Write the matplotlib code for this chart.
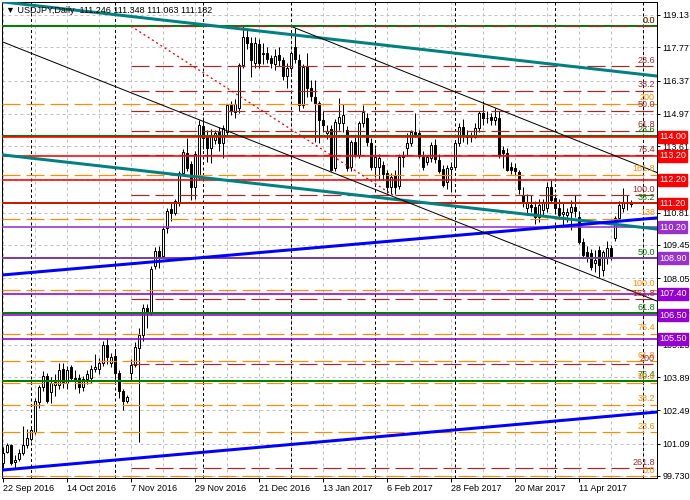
#!/usr/bin/env python3
"""
USDJPY daily chart with fib levels, channels and horizontal levels (MT4 look).
Output: out.png (690x500)
"""

import numpy as np
import matplotlib
matplotlib.use('Agg')
import matplotlib.pyplot as plt
from matplotlib.transforms import blended_transform_factory

plt.rcParams['font.family'] = ['Liberation Sans', 'DejaVu Sans']
plt.rcParams['lines.scale_dashes'] = False

PX = 0.72  # points per pixel at dpi=100

# ── Candles (bar index 0 = 22 Sep 2016) ─────────────────────────────
opens = [100.29, 100.75, 101.03, 100.30, 100.45, 100.70, 101.03, 101.30, 101.60, 102.85,
         103.47, 103.93, 103.25, 103.55, 103.55, 104.22, 103.65, 104.30, 103.85, 103.85,
         103.47, 103.80, 103.85, 104.25, 104.22, 104.47, 105.24, 104.50, 104.77, 104.06,
         103.30, 102.90, 104.05, 104.40, 105.12, 105.67, 106.80, 106.60, 108.55, 109.20,
         109.00, 110.15, 110.95, 110.81, 111.20, 112.50, 113.31, 112.86, 111.90, 112.35,
         114.46, 114.00, 113.52, 113.87, 114.22, 113.76, 114.22, 115.34, 115.05, 115.20,
         117.03, 118.22, 117.96, 117.10, 117.90, 117.50, 117.54, 117.30, 117.07, 117.45,
         117.24, 116.56, 116.90, 117.77, 117.24, 115.34, 116.95, 116.06, 115.69, 115.41,
         114.71, 114.15, 114.32, 112.68, 114.60, 114.57, 114.29, 112.75, 113.80, 113.24,
         114.57, 114.78, 113.76, 112.75, 112.75, 112.82, 112.47, 111.90, 112.40, 111.93,
         113.25, 113.55, 113.73, 114.22, 114.15, 113.17, 112.95, 113.10, 113.66, 113.03,
         112.64, 112.12, 112.65, 112.75, 113.73, 114.43, 114.05, 114.00, 114.00, 114.36,
         114.99, 114.78, 114.85, 114.70, 114.80, 113.45, 113.31, 112.75, 112.70, 112.53,
         111.55, 110.99, 111.15, 111.06, 110.64, 110.92, 110.99, 111.90, 111.41, 110.99,
         110.75, 110.71, 110.85, 111.06, 110.64, 109.59, 109.17, 109.10, 108.68, 109.24,
         108.40, 108.89, 109.31, 109.73, 110.57, 110.99, 111.20, 111.246]
highs = [100.96, 101.13, 101.07, 100.62, 100.85, 101.83, 101.70, 101.80, 103.00, 103.55,
         104.15, 104.05, 103.90, 104.00, 104.50, 104.50, 104.35, 104.40, 104.20, 104.00,
         103.95, 104.20, 104.40, 104.87, 104.70, 105.40, 105.55, 104.90, 105.00, 104.20,
         103.40, 103.15, 104.65, 105.38, 105.95, 106.95, 106.95, 108.55, 109.38, 109.40,
         110.25, 111.00, 111.20, 111.40, 112.55, 113.50, 113.95, 113.00, 113.40, 114.70,
         114.83, 114.30, 114.35, 114.30, 114.40, 114.50, 115.40, 115.50, 115.60, 117.10,
         118.66, 118.60, 118.20, 118.20, 118.10, 117.95, 117.80, 117.45, 117.70, 117.80,
         117.35, 117.10, 117.60, 118.60, 117.50, 117.05, 117.53, 116.40, 116.40, 115.50,
         115.10, 114.50, 114.50, 114.75, 115.62, 115.37, 114.45, 113.85, 114.00, 114.65,
         115.35, 115.00, 113.95, 113.52, 113.30, 113.00, 112.60, 112.50, 112.60, 113.30,
         113.40, 114.16, 114.30, 114.99, 114.30, 113.40, 113.25, 113.80, 113.90, 113.30,
         112.80, 112.80, 112.95, 113.85, 114.60, 114.75, 114.30, 114.20, 114.60, 115.10,
         115.50, 115.10, 115.00, 115.20, 115.10, 113.60, 113.55, 112.95, 112.90, 112.60,
         111.90, 111.60, 111.55, 111.30, 111.40, 111.40, 112.10, 112.19, 111.60, 111.40,
         111.20, 111.00, 111.35, 111.55, 110.90, 109.75, 109.40, 109.30, 109.24, 109.40,
         109.25, 109.60, 109.45, 110.65, 111.30, 111.84, 111.55, 111.348]
lows = [100.05, 100.68, 100.19, 100.05, 100.35, 100.60, 100.90, 101.20, 101.50, 102.60,
        103.30, 102.80, 102.80, 103.10, 103.40, 103.45, 103.40, 103.75, 103.40, 103.20,
        103.30, 103.60, 103.65, 104.10, 104.00, 104.35, 104.45, 104.30, 103.80, 103.00,
        102.50, 102.80, 103.73, 104.33, 101.17, 105.40, 105.95, 106.50, 108.45, 108.50,
        108.90, 109.95, 110.45, 110.70, 111.10, 112.40, 112.55, 111.35, 111.40, 112.20,
        113.50, 112.95, 112.88, 113.70, 113.40, 113.10, 114.10, 114.90, 114.80, 115.00,
        116.90, 117.70, 116.53, 116.90, 116.90, 117.05, 117.10, 116.90, 116.80, 117.00,
        116.40, 116.05, 116.70, 117.10, 115.10, 115.20, 115.68, 115.50, 113.80, 113.75,
        114.20, 113.90, 112.55, 112.55, 114.29, 114.20, 112.55, 112.55, 113.15, 113.10,
        114.40, 113.60, 112.60, 112.33, 112.20, 112.20, 111.64, 111.60, 111.60, 111.80,
        112.75, 113.20, 113.60, 114.00, 113.10, 112.60, 112.80, 112.95, 112.90, 112.50,
        111.90, 111.80, 111.70, 112.60, 113.60, 113.80, 113.70, 113.80, 113.95, 114.20,
        114.50, 114.60, 114.50, 114.50, 113.10, 112.70, 112.55, 112.45, 112.40, 111.60,
        111.05, 110.70, 110.85, 110.35, 110.40, 110.70, 110.85, 111.20, 110.80, 110.55,
        110.30, 110.40, 110.10, 110.64, 109.50, 108.90, 108.75, 108.40, 108.33, 108.12,
        108.15, 108.65, 108.80, 109.60, 110.45, 110.85, 110.92, 111.063]
closes = [100.71, 101.03, 100.29, 100.40, 100.70, 101.03, 101.33, 101.66, 102.90, 103.47,
          103.93, 102.90, 103.65, 103.70, 104.18, 103.68, 104.20, 103.85, 103.82, 103.47,
          103.80, 104.00, 104.25, 104.30, 104.47, 105.24, 104.73, 104.75, 104.06, 103.30,
          102.90, 103.05, 104.40, 105.17, 105.67, 106.80, 106.60, 108.43, 109.20, 108.95,
          110.12, 110.89, 110.80, 111.30, 112.47, 113.35, 112.68, 111.90, 113.30, 114.50,
          113.94, 113.52, 114.10, 114.16, 113.73, 114.36, 115.34, 115.10, 115.37, 117.03,
          118.22, 117.96, 117.24, 117.94, 117.10, 117.55, 117.26, 117.10, 117.40, 117.24,
          116.56, 116.90, 117.52, 117.27, 115.34, 116.95, 116.04, 115.72, 115.41, 114.71,
          114.50, 114.25, 112.61, 114.64, 114.85, 114.92, 112.68, 113.80, 113.24, 114.57,
          115.06, 113.80, 112.75, 113.17, 113.10, 112.44, 111.90, 112.33, 111.90, 113.17,
          113.15, 113.76, 114.22, 114.10, 113.19, 112.75, 113.15, 113.66, 113.08, 112.58,
          111.98, 112.68, 112.75, 113.73, 114.43, 114.05, 114.00, 114.05, 114.36, 115.00,
          114.78, 114.80, 114.70, 114.85, 113.24, 113.31, 112.61, 112.61, 112.55, 111.79,
          111.20, 111.20, 111.05, 110.64, 111.13, 111.20, 111.90, 111.34, 110.99, 110.71,
          110.85, 110.85, 111.06, 110.90, 109.59, 109.03, 109.00, 108.54, 108.82, 108.61,
          109.14, 109.31, 108.96, 110.57, 111.13, 111.20, 111.25, 111.182]

# ── Axis ticks ──────────────────────────────────────────────────────
price_ticks = [119.13, 117.77, 116.37, 114.97, 113.61, 112.21, 110.81, 109.45,
               108.05, 106.65, 105.25, 103.89, 102.49, 101.09, 99.73]
price_tick_labels = ['119.13', '117.77', '116.37', '114.97', '113.61', '112.21', '110.81',
                     '109.45', '108.05', '106.65', '105.25', '103.89', '102.49', '101.09',
                     '99.730']
date_bars = [0, 16, 32, 48, 64, 80, 96, 112, 128, 144]
date_labels = ['22 Sep 2016', '14 Oct 2016', '7 Nov 2016', '29 Nov 2016', '21 Dec 2016',
               '13 Jan 2017', '6 Feb 2017', '28 Feb 2017', '20 Mar 2017', '11 Apr 2017']
month_bars = [7, 28, 50, 72, 93, 113, 138, 160]

# ── Horizontal levels ───────────────────────────────────────────────
red_levels = [114.00, 113.20, 112.20, 111.20]
purple_levels = [110.20, 108.90, 107.40, 106.50, 105.50]
purple_colors = ['#9932CC', '#9932CC', '#9400D3', '#9400D3', '#9400D3']

# ── Fibonacci objects ───────────────────────────────────────────────
fib1_high, fib1_low, fib1_start, fib1_end_bar = 118.66, 111.55, 32, 97.5
fib1_levels = [0.0, 23.6, 38.2, 50.0, 61.8, 76.4, 100.0, 161.8, 200.0, 261.8]
fib1_labels = ['0.0', '23.6', '38.2', '50.0', '61.8', '76.4', '100.0', '161.8', '200', '261.8']

fib2_low, fib2_high = 99.73, 107.56
fib2_levels = [0.0, 23.6, 38.2, 50.0, 61.8, 76.4, 100.0, 138.2, 161.8, 200.0]
fib2_labels = ['0.0', '23.6', '38.2', '50.0', '61.8', '76.4', '100.0', '138', '161.8', '200']

fib3_high, fib3_low = 118.66, 99.13
fib3_levels = [0.0, 23.6, 38.2, 50.0, 61.8, 76.4]
fib3_labels = ['0.0', '23.6', '38.2', '50.0', '61.8', '76.4']

# ── Trend lines: (bar, price) -> (bar, price) ───────────────────────
teal_lines = [((0, 119.68), (163.5, 116.56)), ((0, 113.24), (163.5, 110.12))]
blue_lines = [((0, 108.19), (163.5, 110.59)), ((0, 99.98), (163.5, 102.42))]
black_lines = [((0, 117.99), (163.5, 107.09)), ((72.5, 118.62), (163.5, 112.50))]

XMIN, XMAX = -0.25, 163.5
YMIN, YMAX = 99.643, 119.677

BROWN = '#A52A2A'
ORANGE = '#FF8C00'
GREEN = '#008000'
FS = 6.5


def main():
    fig = plt.figure(figsize=(6.9, 5.0), dpi=100)
    ax = fig.add_axes([2 / 690, 22 / 500, 655 / 690, 476 / 500])
    ax.set_xlim(XMIN, XMAX)
    ax.set_ylim(YMIN, YMAX)
    rt = blended_transform_factory(ax.transAxes, ax.transData)

    # grid + period separators
    for b in np.arange(0, 164, 8):
        ax.axvline(b, color='#C0C0C0', lw=1 * PX, ls=(0, (3 * PX, 3 * PX)), zorder=0.5)
    for p in price_ticks:
        ax.axhline(p, color='#C0C0C0', lw=1 * PX, ls=(0, (3 * PX, 3 * PX)), zorder=0.5)
    for b in month_bars:
        ax.axvline(b, color='black', lw=1 * PX, ls=(0, (3 * PX, 2.5 * PX)), zorder=1)

    # candles
    o, h, l, c = map(np.array, (opens, highs, lows, closes))
    idx = np.arange(len(o))
    ax.vlines(idx, l, h, color='black', lw=1 * PX, zorder=3)
    body = np.maximum(np.abs(c - o), 0.02)
    fills = np.where(c >= o, 'white', 'black')
    ax.bar(idx, body, bottom=np.minimum(o, c), width=0.55, color=fills,
           edgecolor='black', linewidth=1 * PX, zorder=4)

    dash = (0, (18 * PX, 6 * PX))

    # fib 3 (green solid, full width)
    rng3 = fib3_high - fib3_low
    for lv, lab in zip(fib3_levels, fib3_labels):
        p = fib3_high - lv / 100 * rng3
        ax.axhline(p, color=GREEN, lw=2 * PX, zorder=5)
        ax.text(0.9969, p + 0.06, lab, transform=rt, ha='right', va='bottom',
                color=GREEN, fontsize=FS, zorder=9)

    # fib 2 (orange, full width)
    rng2 = fib2_high - fib2_low
    for lv, lab in zip(fib2_levels, fib2_labels):
        p = fib2_low + lv / 100 * rng2
        ax.hlines(p, XMIN, XMAX, colors=ORANGE, lw=1.2 * PX, linestyles=[dash], zorder=5.5)
        ax.text(0.9969, p + 0.06, lab, transform=rt, ha='right', va='bottom',
                color=ORANGE, fontsize=FS, zorder=9)

    # fib 1 (brown, from anchor to right)
    rng1 = fib1_high - fib1_low
    for lv, lab in zip(fib1_levels, fib1_labels):
        p = fib1_high - lv / 100 * rng1
        ax.hlines(p, fib1_start, XMAX, colors=BROWN, lw=1.2 * PX, linestyles=[dash], zorder=5.6)
        ax.text(0.9969, p + 0.06, lab, transform=rt, ha='right', va='bottom',
                color=BROWN, fontsize=FS, zorder=9)
    ax.plot([fib1_start, fib1_end_bar], [fib1_high, fib1_low], color='#FF0000',
            lw=1.3 * PX, ls=(0, (2 * PX, 3 * PX)), zorder=6)

    # horizontal levels with price boxes
    for p, col in zip(purple_levels, purple_colors):
        ax.axhline(p, color=col, lw=1.6 * PX, zorder=6)
        ax.text(1.003, p, f'{p:.2f}', transform=rt, ha='left', va='center', color='white',
                fontsize=FS, clip_on=False, zorder=12,
                bbox=dict(boxstyle='square,pad=0.15', fc=col, ec=col))
    for p in red_levels:
        ax.axhline(p, color='#FF0000', lw=1.6 * PX, zorder=6)
        ax.text(1.003, p, f'{p:.2f}', transform=rt, ha='left', va='center', color='white',
                fontsize=FS, clip_on=False, zorder=12,
                bbox=dict(boxstyle='square,pad=0.15', fc='#FF0000', ec='#FF0000'))

    # channels & trend lines
    for (x0, y0), (x1, y1) in teal_lines:
        ax.plot([x0, x1], [y0, y1], color='#008080', lw=3 * PX, zorder=7)
    for (x0, y0), (x1, y1) in blue_lines:
        ax.plot([x0, x1], [y0, y1], color='#0000FF', lw=3 * PX, zorder=7)
    for (x0, y0), (x1, y1) in black_lines:
        ax.plot([x0, x1], [y0, y1], color='black', lw=1 * PX, zorder=7)

    # axes
    ax.yaxis.tick_right()
    ax.set_yticks(price_ticks)
    ax.set_yticklabels(price_tick_labels)
    ax.set_xticks(date_bars)
    ax.set_xticklabels(date_labels, ha='left')
    ax.tick_params(axis='y', labelsize=FS, length=3 * PX, pad=2, width=1 * PX)
    ax.tick_params(axis='x', labelsize=FS, length=4 * PX, pad=1.5, width=1 * PX)
    for s in ax.spines.values():
        s.set_linewidth(1 * PX)
        s.set_color('black')

    ax.text(0.006, 0.983, '\u25bc USDJPY,Daily  111.246 111.348 111.063 111.182',
            transform=ax.transAxes, ha='left', va='center', fontsize=FS, zorder=12)

    fig.savefig('out.png', dpi=100)
    plt.close(fig)


if __name__ == '__main__':
    main()
